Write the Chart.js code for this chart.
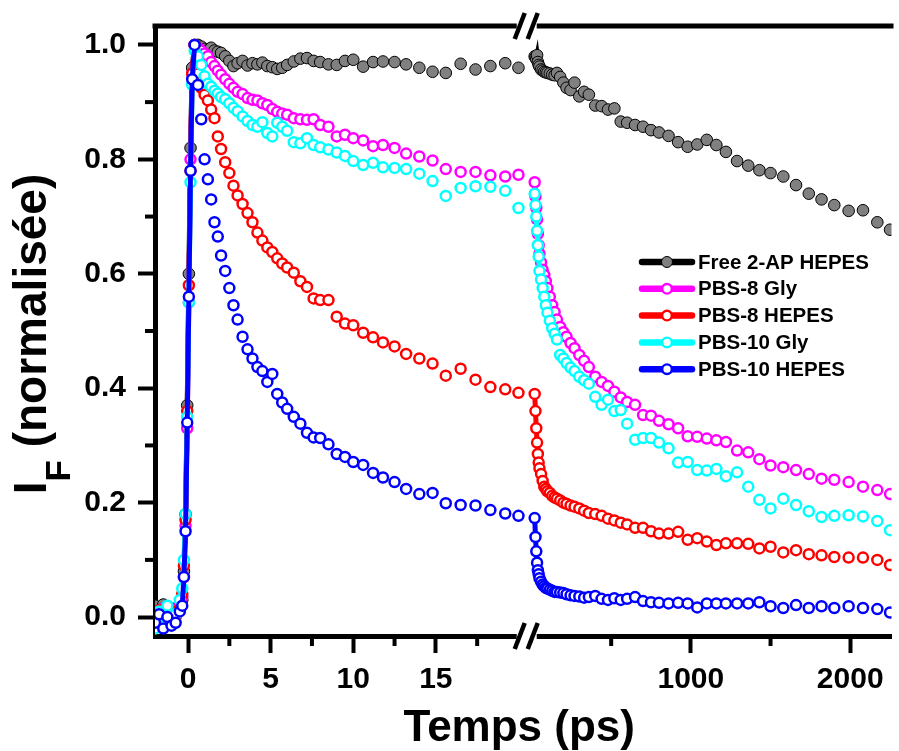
<!DOCTYPE html>
<html>
<head>
<meta charset="utf-8">
<script src="https://cdn.jsdelivr.net/npm/chart.js@4.4.1/dist/chart.umd.min.js"></script>
<style>
  html, body { margin: 0; padding: 0; background: #fff; }
  #wrap { width: 899px; height: 751px; }
</style>
</head>
<body>
<div id="wrap"><canvas id="decayChart" width="899" height="751"></canvas></div>
<script>
// delay times (ps) before and after the axis break
const timeShort = [-2, -1.75, -1.5, -1.25, -1, -0.75, -0.5, -0.35, -0.25, -0.15, -0.05, 0.05, 0.15, 0.25, 0.4,
  0.6, 0.8, 1.0, 1.2, 1.4, 1.6, 1.8, 2.0, 2.25, 2.5, 2.75, 3.0, 3.3, 3.6, 3.9, 4.2, 4.5, 4.8, 5.1, 5.4, 5.7, 6.0,
  6.4, 6.8, 7.2, 7.6, 8.0, 8.5, 9.0, 9.5, 10.0, 10.6, 11.2, 11.8, 12.5, 13.2, 14.0, 14.8, 15.6, 16.5, 17.4, 18.3, 19.2, 20.0];
const timeLong = [20, 25, 30, 35, 40, 45, 50, 60, 70, 80, 90, 100, 115, 130, 145, 160, 180, 200, 220, 245,
  270, 300, 330, 360, 400, 440, 480, 520, 560, 600, 650, 700, 750, 800, 860, 920, 980, 1040, 1100, 1160,
  1220, 1290, 1360, 1430, 1500, 1580, 1660, 1740, 1820, 1900, 1990, 2080, 2170, 2250];

const seriesNames = ["Free 2-AP HEPES", "PBS-8 Gly", "PBS-8 HEPES", "PBS-10 Gly", "PBS-10 HEPES"];
const seriesColors = ["#000000", "#FF00FF", "#FF0000", "#00FFFF", "#0000FF"];

const free2apShort = [0.02, 0.01, 0.022, 0.0, 0.015, 0.005, 0.012, 0.03, 0.08, 0.18, 0.37, 0.6, 0.82, 0.96, 1.0,
  1.0, 0.997, 0.993, 0.991, 0.995, 0.99, 0.988, 0.986, 0.98, 0.972, 0.963, 0.968, 0.972, 0.964, 0.968, 0.966,
  0.969, 0.963, 0.961, 0.958, 0.96, 0.965, 0.971, 0.976, 0.977, 0.972, 0.97, 0.966, 0.965, 0.972, 0.974, 0.962,
  0.97, 0.971, 0.97, 0.966, 0.96, 0.953, 0.951, 0.967, 0.957, 0.963, 0.968, 0.96];
const pbs8GlyShort = [0.01, -0.01, 0.015, 0.005, 0.0, 0.01, 0.02, 0.035, 0.07, 0.16, 0.33, 0.55, 0.8, 0.95, 1.0,
  0.995, 0.99, 0.985, 0.98, 0.97, 0.963, 0.955, 0.948, 0.94, 0.932, 0.925, 0.918, 0.914, 0.907, 0.904, 0.903,
  0.898, 0.895, 0.888, 0.883, 0.88, 0.878, 0.872, 0.87, 0.869, 0.87, 0.86, 0.857, 0.84, 0.843, 0.837, 0.833,
  0.823, 0.825, 0.82, 0.81, 0.805, 0.798, 0.783, 0.778, 0.778, 0.772, 0.77, 0.773];
const pbs8HepesShort = [0.0, 0.012, -0.005, 0.01, 0.005, 0.0, 0.015, 0.04, 0.09, 0.17, 0.36, 0.58, 0.78, 0.95, 1.0,
  0.95, 0.925, 0.913, 0.903, 0.887, 0.872, 0.84, 0.818, 0.795, 0.776, 0.754, 0.737, 0.722, 0.706, 0.69, 0.672,
  0.658, 0.646, 0.638, 0.627, 0.618, 0.611, 0.602, 0.587, 0.577, 0.557, 0.554, 0.554, 0.525, 0.513, 0.51, 0.497,
  0.489, 0.48, 0.473, 0.46, 0.452, 0.443, 0.422, 0.434, 0.415, 0.402, 0.398, 0.392];
const pbs10GlyShort = [-0.02, 0.01, -0.015, 0.02, -0.01, 0.005, 0.03, 0.05, 0.1, 0.18, 0.35, 0.55, 0.76, 0.93, 0.99,
  0.98, 0.965, 0.945, 0.932, 0.927, 0.92, 0.915, 0.909, 0.905, 0.898, 0.89, 0.884, 0.875, 0.867, 0.86, 0.857,
  0.865, 0.846, 0.84, 0.864, 0.857, 0.85, 0.83, 0.828, 0.837, 0.825, 0.821, 0.817, 0.812, 0.806, 0.797, 0.79,
  0.794, 0.786, 0.785, 0.783, 0.775, 0.762, 0.736, 0.75, 0.753, 0.752, 0.745, 0.715];
const pbs10HepesShort = [-0.01, 0.005, -0.02, 0.0, -0.015, -0.01, 0.01, 0.02, 0.07, 0.15, 0.34, 0.56, 0.78, 0.94, 1.0,
  0.93, 0.87, 0.8, 0.765, 0.73, 0.69, 0.665, 0.632, 0.605, 0.575, 0.545, 0.52, 0.49, 0.468, 0.452, 0.437,
  0.43, 0.411, 0.425, 0.39, 0.375, 0.364, 0.35, 0.338, 0.322, 0.314, 0.313, 0.302, 0.285, 0.28, 0.271, 0.266,
  0.252, 0.244, 0.236, 0.224, 0.215, 0.217, 0.199, 0.196, 0.195, 0.187, 0.181, 0.177];

const free2apLong = [0.98, 0.978, 0.975, 0.982, 0.97, 0.965, 0.962, 0.957, 0.955, 0.953, 0.952, 0.951, 0.95, 0.948,
  0.947, 0.951, 0.944, 0.934, 0.925, 0.921, 0.934, 0.91, 0.918, 0.913, 0.894, 0.893, 0.887, 0.889, 0.866, 0.864,
  0.86, 0.857, 0.851, 0.847, 0.841, 0.83, 0.822, 0.826, 0.834, 0.825, 0.813, 0.797, 0.789, 0.781, 0.776, 0.77,
  0.755, 0.74, 0.73, 0.72, 0.71, 0.711, 0.69, 0.677];
const pbs8GlyLong = [0.76, 0.735, 0.715, 0.695, 0.67, 0.65, 0.635, 0.62, 0.607, 0.598, 0.587, 0.575, 0.56, 0.545,
  0.533, 0.52, 0.507, 0.498, 0.49, 0.479, 0.47, 0.458, 0.448, 0.437, 0.42, 0.411, 0.404, 0.394, 0.384, 0.376,
  0.371, 0.353, 0.352, 0.343, 0.337, 0.33, 0.316, 0.315, 0.312, 0.309, 0.306, 0.291, 0.288, 0.276, 0.265, 0.262,
  0.257, 0.25, 0.242, 0.24, 0.236, 0.228, 0.222, 0.215];
const pbs8HepesLong = [0.39, 0.36, 0.33, 0.305, 0.285, 0.27, 0.26, 0.25, 0.238, 0.228, 0.224, 0.22, 0.217, 0.212,
  0.209, 0.207, 0.204, 0.2, 0.198, 0.195, 0.193, 0.19, 0.186, 0.182, 0.18, 0.177, 0.172, 0.169, 0.165, 0.162,
  0.156, 0.156, 0.15, 0.146, 0.146, 0.149, 0.135, 0.138, 0.132, 0.126, 0.129, 0.129, 0.128, 0.12, 0.123, 0.113,
  0.117, 0.11, 0.108, 0.105, 0.104, 0.104, 0.1, 0.091];
const pbs10GlyLong = [0.74, 0.72, 0.70, 0.675, 0.65, 0.63, 0.605, 0.59, 0.575, 0.56, 0.545, 0.532, 0.518, 0.505,
  0.495, 0.485, 0.458, 0.452, 0.444, 0.436, 0.43, 0.42, 0.414, 0.408, 0.385, 0.371, 0.38, 0.36, 0.362, 0.338,
  0.31, 0.313, 0.313, 0.305, 0.295, 0.27, 0.271, 0.257, 0.256, 0.259, 0.246, 0.253, 0.228, 0.205, 0.19, 0.207,
  0.196, 0.185, 0.175, 0.177, 0.178, 0.176, 0.168, 0.152];
const pbs10HepesLong = [0.173, 0.14, 0.115, 0.095, 0.082, 0.075, 0.068, 0.062, 0.057, 0.054, 0.051, 0.05, 0.048,
  0.046, 0.044, 0.044, 0.043, 0.042, 0.04, 0.038, 0.037, 0.036, 0.034, 0.035, 0.037, 0.032, 0.03, 0.033, 0.03,
  0.032, 0.035, 0.028, 0.026, 0.025, 0.024, 0.025, 0.024, 0.017, 0.024, 0.024, 0.024, 0.024, 0.024, 0.026, 0.019,
  0.016, 0.021, 0.016, 0.019, 0.016, 0.019, 0.016, 0.014, 0.008];

// axis ticks
const yTicks = [0, 0.2, 0.4, 0.6, 0.8, 1.0];
const yMinorTicks = [0.1, 0.3, 0.5, 0.7, 0.9];
const xShortTicks = [0, 5, 10, 15];
const xShortMinorTicks = [2.5, 7.5, 12.5, 17.5];
const xLongTicks = [1000, 2000];
const xLongMinorTicks = [500, 1500];

const shortValues = [free2apShort, pbs8GlyShort, pbs8HepesShort, pbs10GlyShort, pbs10HepesShort];
const longValues = [free2apLong, pbs8GlyLong, pbs8HepesLong, pbs10GlyLong, pbs10HepesLong];

const FONT = "'Liberation Sans', Arial, sans-serif";

const toPoints = (times, values) => times.map((t, i) => ({ x: t, y: values[i] }));

// only keep the connecting line where the points sit close together
const denseOnly = {
  borderColor: (ctx) => (Math.abs(ctx.p1.x - ctx.p0.x) > 3 ? "rgba(0,0,0,0)" : undefined),
};

const datasets = [];
seriesNames.forEach((name, i) => {
  const isFree = i === 0;
  const common = {
    label: name,
    showLine: true,
    borderColor: seriesColors[i],
    borderWidth: 5,
    pointRadius: isFree ? 5.8 : 5,
    pointBorderWidth: isFree ? 1 : 2.5,
    pointBorderColor: isFree ? "#000000" : seriesColors[i],
    pointBackgroundColor: isFree ? "#808080" : "#ffffff",
    order: seriesNames.length - i,
    segment: denseOnly,
    yAxisID: "y",
  };
  datasets.push({ ...common, data: toPoints(timeShort, shortValues[i]), xAxisID: "xShort" });
  datasets.push({ ...common, data: toPoints(timeLong, longValues[i]), xAxisID: "xLong" });
});

const tickFont = { family: FONT, size: 30, weight: "bold" };
const axisGrid = {
  display: true,
  drawOnChartArea: false,
  drawTicks: true,
  tickLength: 17,
  tickWidth: 4,
  tickColor: "#000",
};

// fixed box sizes, no extra room asked for the edge labels
const fixHeight = (scale) => {
  scale.height = 115;
  scale.paddingLeft = 0;
  scale.paddingRight = 0;
};

const extrasPlugin = {
  id: "extras",
  afterDraw(chart) {
    const { ctx, chartArea: area, scales } = chart;
    const xs = scales.xShort, xl = scales.xLong, ys = scales.y;
    const seg = (x1, y1, x2, y2) => {
      ctx.beginPath();
      ctx.moveTo(x1, y1);
      ctx.lineTo(x2, y2);
      ctx.stroke();
    };
    ctx.save();
    ctx.strokeStyle = "#000";
    ctx.fillStyle = "#000";

    // top frame
    ctx.lineWidth = 5;
    seg(area.left - 2.5, area.top, area.right + 2, area.top);

    // minor ticks
    ctx.lineWidth = 4;
    xShortMinorTicks.forEach((v) => {
      const px = xs.getPixelForValue(v);
      seg(px, area.bottom + 2, px, area.bottom + 10);
    });
    xLongMinorTicks.forEach((v) => {
      const px = xl.getPixelForValue(v);
      seg(px, area.bottom + 2, px, area.bottom + 10);
    });
    yMinorTicks.forEach((v) => {
      const py = ys.getPixelForValue(v);
      seg(area.left - 2, py, area.left - 10, py);
    });

    // axis break marks
    const bx = xs.right;
    [area.top, area.bottom].forEach((by) => {
      ctx.fillStyle = "#fff";
      ctx.fillRect(bx - 10, by - 4, 20, 8);
      ctx.lineWidth = 4.5;
      seg(bx - 12, by + 13, bx - 2, by - 13);
      seg(bx + 1, by + 13, bx + 11, by - 13);
    });
    ctx.fillStyle = "#000";

    // x title
    ctx.font = "bold 44px " + FONT;
    ctx.textAlign = "center";
    ctx.textBaseline = "alphabetic";
    ctx.fillText("Temps (ps)", (area.left + area.right) / 2 - 4, 741);

    // y title, I with subscript F
    const mainFont = "bold 46px " + FONT;
    const subFont = "bold 35px " + FONT;
    ctx.font = mainFont;
    const wI = ctx.measureText("I").width;
    const wRest = ctx.measureText(" (normalisée)").width;
    ctx.font = subFont;
    const wF = ctx.measureText("F").width;
    const total = wI + wF + wRest;
    ctx.save();
    ctx.translate(46, 334 + total / 2);
    ctx.rotate(-Math.PI / 2);
    ctx.textAlign = "left";
    ctx.font = mainFont;
    ctx.fillText("I", 0, 0);
    ctx.font = subFont;
    ctx.fillText("F", wI, 24);
    ctx.font = mainFont;
    ctx.fillText(" (normalisée)", wI + wF, 0);
    ctx.restore();

    // legend
    ctx.font = "bold 20.5px " + FONT;
    ctx.textAlign = "left";
    ctx.textBaseline = "middle";
    seriesNames.forEach((name, i) => {
      const ly = 262 + i * 26.8;
      ctx.strokeStyle = seriesColors[i];
      ctx.lineWidth = 6.5;
      ctx.lineCap = "round";
      seg(642, ly, 692, ly);
      ctx.beginPath();
      ctx.arc(667, ly, i === 0 ? 5.5 : 4.8, 0, Math.PI * 2);
      ctx.fillStyle = i === 0 ? "#808080" : "#ffffff";
      ctx.fill();
      ctx.lineWidth = i === 0 ? 1 : 2.4;
      ctx.strokeStyle = seriesColors[i];
      ctx.stroke();
      ctx.fillStyle = "#000";
      ctx.fillText(name, 698, ly + 1);
    });
    ctx.restore();
  },
};

new Chart(document.getElementById("decayChart"), {
  type: "scatter",
  data: { datasets: datasets },
  plugins: [extrasPlugin],
  options: {
    responsive: false,
    animation: false,
    events: [],
    layout: { padding: { left: 0, top: 26, right: 1, bottom: 0 } },
    plugins: { legend: { display: false }, tooltip: { enabled: false } },
    scales: {
      xShort: {
        type: "linear",
        position: "bottom",
        stack: "time",
        stackWeight: 375,
        min: -2,
        max: 20.5,
        afterBuildTicks: (scale) => { scale.ticks = xShortTicks.map((v) => ({ value: v })); },
        afterFit: fixHeight,
        border: { display: true, width: 5, color: "#000" },
        grid: axisGrid,
        ticks: { font: tickFont, color: "#000", padding: 9, maxRotation: 0, minRotation: 0, autoSkip: false,
          callback: (v) => String(v) },
      },
      xLong: {
        type: "linear",
        position: "bottom",
        stack: "time",
        stackWeight: 368,
        min: -30,
        max: 2259,
        afterBuildTicks: (scale) => { scale.ticks = xLongTicks.map((v) => ({ value: v })); },
        afterFit: fixHeight,
        border: { display: true, width: 5, color: "#000" },
        grid: axisGrid,
        ticks: { font: tickFont, color: "#000", padding: 9, maxRotation: 0, minRotation: 0, autoSkip: false,
          callback: (v) => String(v) },
      },
      y: {
        type: "linear",
        position: "left",
        min: -0.033,
        max: 1.033,
        afterBuildTicks: (scale) => { scale.ticks = yTicks.map((v) => ({ value: v })); },
        afterFit: (scale) => {
          scale.width = 155;
          scale.paddingTop = 0;
          scale.paddingBottom = 0;
        },
        border: { display: true, width: 5, color: "#000" },
        grid: axisGrid,
        ticks: { font: tickFont, color: "#000", padding: 12, callback: (v) => v.toFixed(1) },
      },
    },
  },
});
</script>
</body>
</html>
